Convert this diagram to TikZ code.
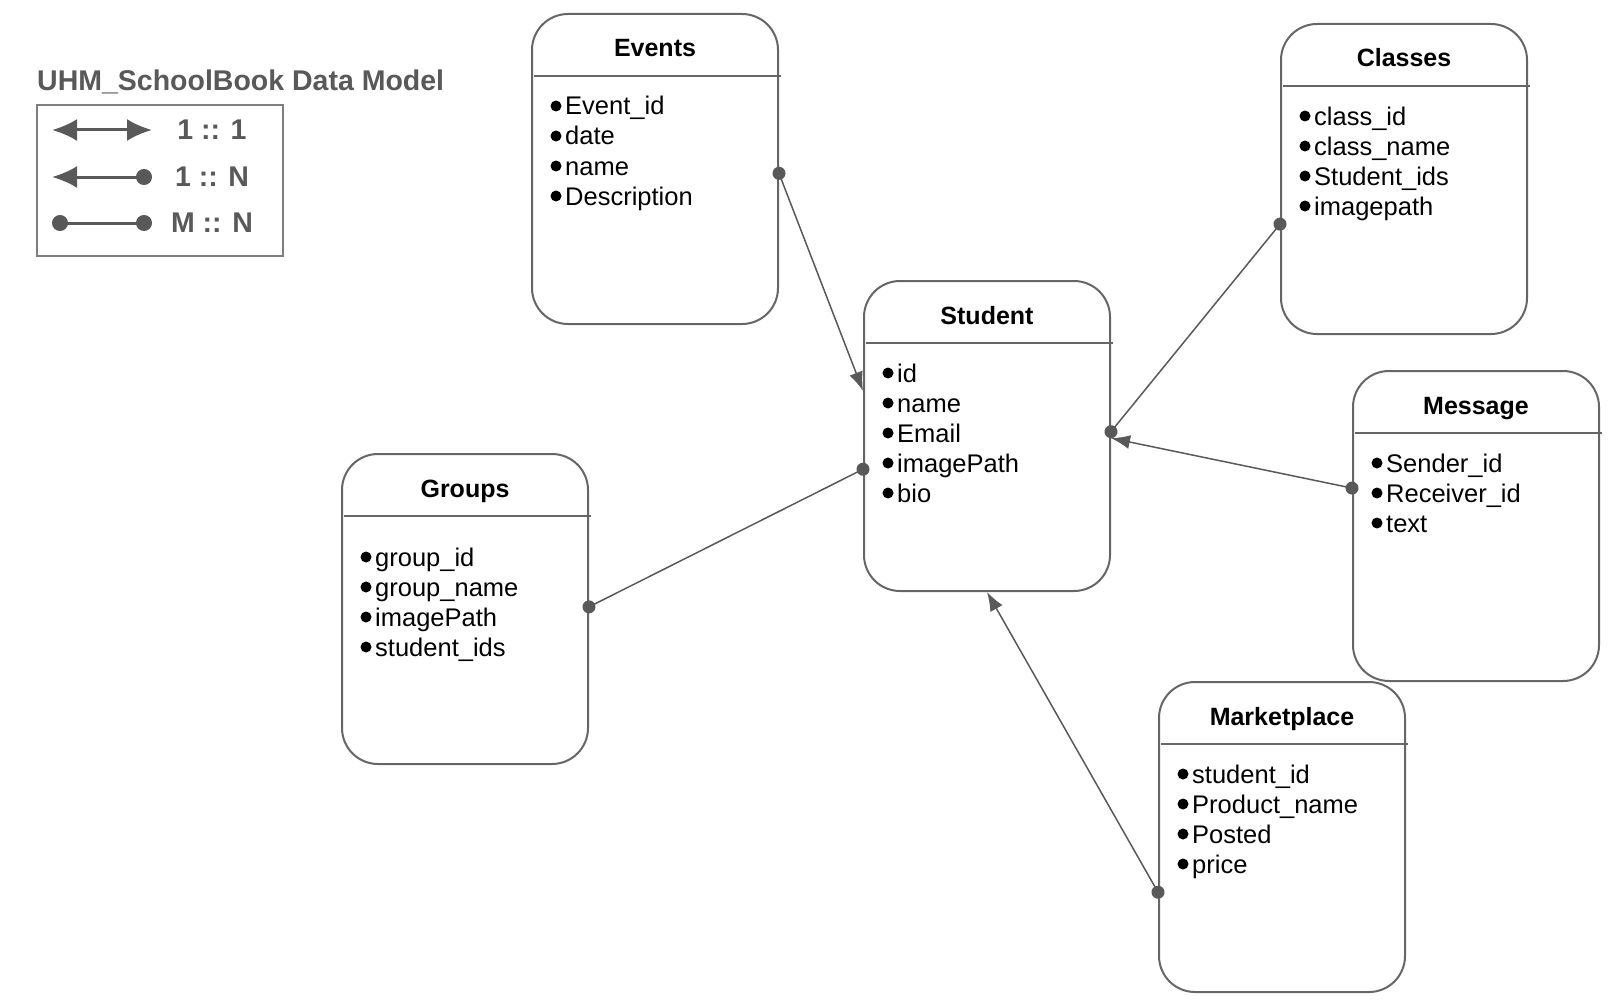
\documentclass[tikz,border=0pt]{standalone}
\usepackage{fontspec}
\setmainfont{Liberation Sans}
\usepackage{tikz}
\usetikzlibrary{
  arrows.meta,%
  calc
}
\definecolor{linegray}{HTML}{595959}
\definecolor{boxgray}{HTML}{666666}
\definecolor{legendgray}{HTML}{7F7F7F}
\tikzset{
  entity/.style={draw=boxgray, line width=2pt, rounded corners=36pt,
    minimum width=246pt, minimum height=310pt, inner sep=0pt, anchor=north west},
  entitytitle/.style={font=\fontsize{25}{30}\selectfont\bfseries, anchor=base, inner sep=0pt},
  field/.style={font=\fontsize{25.5}{30}\selectfont, anchor=base west, inner sep=0pt},
  rel/.style={draw=linegray, line width=1.5pt},
  onemany/.style={rel, {Circle[length=13pt]}-{Latex[length=19pt,width=14pt]}, shorten <=-6.5pt},
  manymany/.style={rel, {Circle[length=13pt]}-{Circle[length=13pt]},
    shorten <=-6.5pt, shorten >=-6.5pt},
  legendtext/.style={font=\fontsize{28.5}{33}\selectfont\bfseries, text=linegray, inner sep=0pt},
  legendline/.style={draw=linegray, line width=3pt},
  legendoneone/.style={legendline, {Latex[length=25pt,width=22pt]}-{Latex[length=25pt,width=22pt]}},
  legendonen/.style={legendline, {Latex[length=25pt,width=22pt]}-{Circle[length=16pt]}},
  legendmn/.style={legendline, {Circle[length=16pt]}-{Circle[length=16pt]}},
}
% one table of the data model: [first row] name, x, y, title, fields
\newcommand{\entity}[6][93]{%
  \node[entity] (#2) at (#3,#4) {};
  \draw[boxgray, line width=2pt] ([shift={(3pt,-63pt)}]#2.north west) -- ([shift={(2pt,-63pt)}]#2.north east);
  \node[entitytitle] (#2-title) at ([yshift=-44pt]#2.north) {#5};
  \foreach \f [count=\i] in {#6}{
    \fill ([shift={(25pt,{-#1pt-30pt*(\i-1)})}]#2.north west) circle (5.5pt);
    \node[field] (#2-\i) at ([shift={(34pt,{-#1pt-9pt-30pt*(\i-1)})}]#2.north west) {\f};
  }
}

\begin{document}
\begin{tikzpicture}[x=1pt, y=-1pt]
  \useasboundingbox (0,0) rectangle (1608,1006);

  % legend
  \node[legendtext, anchor=base west] (legendtitle) at (37,91) {UHM\_SchoolBook Data Model};
  \node[draw=legendgray, line width=2pt, minimum width=246pt, minimum height=151pt,
    inner sep=0pt, anchor=north west] (legend) at (36,104) {};
  \foreach \s/\y/\lab [count=\i] in {legendoneone/130/1 :: 1, legendonen/177/1 :: N, legendmn/223/M :: N}{
    \coordinate (l\i a) at (52,\y);
    \coordinate (l\i b) at (152,\y);
    \draw[\s] (l\i a) -- (l\i b);
    \node[legendtext, anchor=base] (lab\i) at (212,{\y+9.5}) {\lab};
  }

  % tables
  \entity{events}{531}{13}{Events}{Event\_id, date, name, Description}
  \entity{student}{863}{280}{Student}{id, name, Email, imagePath, bio}
  \entity{classes}{1280}{23}{Classes}{class\_id, class\_name, Student\_ids, imagepath}
  \entity{message}{1352}{370}{Message}{Sender\_id, Receiver\_id, text}
  \entity[104]{groups}{341}{453}{Groups}{group\_id, group\_name, imagePath, student\_ids}
  \entity{marketplace}{1158}{681}{Marketplace}{student\_id, Product\_name, Posted, price}

  % relations
  \draw[onemany] (events.-2) -- (student.160);
  \draw[manymany] (classes.200) -- (student.2);
  \draw[onemany] (message.163) -- (student.-1);
  \draw[manymany] (groups.1) -- (student.195);
  \draw[onemany] (marketplace.204) -- (student.south);
\end{tikzpicture}
\end{document}
